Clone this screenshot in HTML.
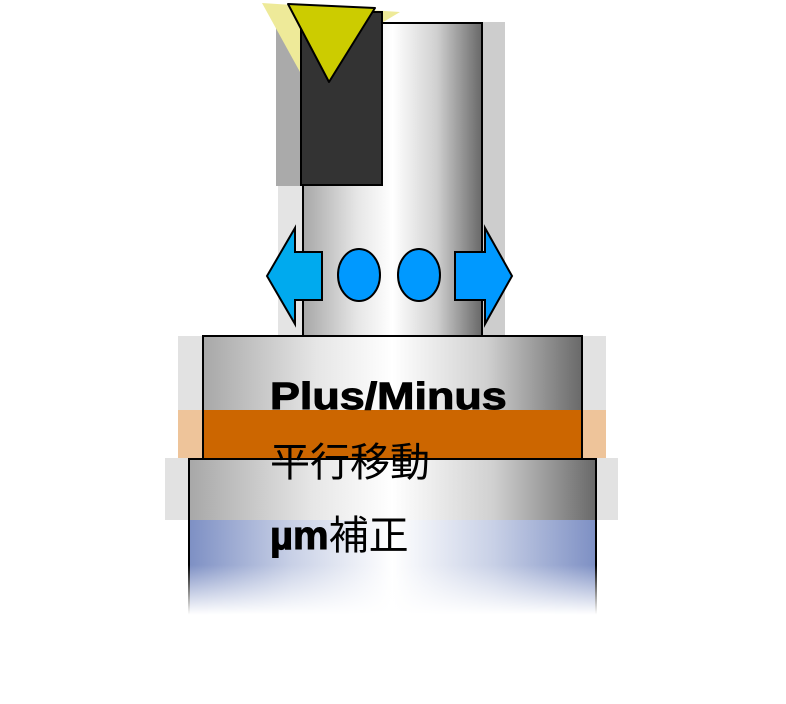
<!DOCTYPE html><html><head><meta charset="utf-8"><style>
body{margin:0;width:786px;height:704px;background:#fff;position:relative;overflow:hidden;font-family:"Liberation Sans","Noto Sans CJK JP",sans-serif}
.a{position:absolute;box-sizing:border-box}
.g{background:linear-gradient(90deg,#a8a8a8 0%,#e6e6e6 30%,#fff 50%,#d0d0d0 75%,#6a6a6a 100%)}
.t{position:absolute;color:#000;white-space:nowrap;line-height:1}
</style></head><body>
<svg class="a" style="left:0;top:0" width="786" height="704">
<rect x="276" y="10" width="26" height="176" fill="#aaa"/>
<rect x="278" y="186" width="24" height="150" fill="#e4e4e4"/>
<rect x="482" y="22" width="23" height="314" fill="#cdcdcd"/>
<polygon points="262,3 400,12 300,72" fill="#eeea99"/>
</svg>
<div class="a g" style="left:302px;top:22px;width:181px;height:315px;border:2px solid #000"></div>
<svg class="a" style="left:0;top:0" width="786" height="704">
<rect x="301" y="12" width="81" height="173" fill="#333" stroke="#000" stroke-width="2"/>
<polygon points="288,4 375,8 329,82" fill="#cccc00" stroke="#000" stroke-width="2" stroke-linejoin="round"/>
</svg>
<div class="a" style="left:178px;top:336px;width:428px;height:74px;background:#e2e2e2"></div>
<div class="a" style="left:178px;top:410px;width:428px;height:48px;background:#eec49a"></div>
<div class="a" style="left:165px;top:458px;width:453px;height:62px;background:#e2e2e2"></div>
<div class="a g" style="left:202px;top:335px;width:381px;height:77px;border:2px solid #000"></div>
<div class="a" style="left:202px;top:410px;width:381px;height:50px;background:#cc6600;border:2px solid #000;border-top:none"></div>
<div class="a g" style="left:188px;top:458px;width:409px;height:64px;border:2px solid #000"></div>
<div class="a" style="left:188px;top:520px;width:409px;height:95px;border-left:2px solid #000;border-right:2px solid #000;background:linear-gradient(90deg,#7e90c4 0%,#c8d0e6 25%,#fff 50%,#c8d0e6 75%,#7e90c4 100%)"></div>
<div class="a" style="left:186px;top:565px;width:414px;height:55px;background:linear-gradient(180deg,rgba(255,255,255,0) 0%,#fff 90%)"></div>
<svg class="a" style="left:0;top:0" width="786" height="704">
<polygon points="267,276 295,228 295,252 322,252 322,300 295,300 295,324" fill="#00aaee" stroke="#000" stroke-width="2"/>
<polygon points="512,276 485,228 485,252 455,252 455,300 485,300 485,324" fill="#0099ff" stroke="#000" stroke-width="2"/>
<ellipse cx="359" cy="275" rx="21" ry="26" fill="#0099ff" stroke="#000" stroke-width="2"/>
<ellipse cx="419" cy="275" rx="21" ry="26" fill="#0099ff" stroke="#000" stroke-width="2"/>
</svg>
<div class="t" style="left:270px;top:378px;font-size:38px;font-weight:900;transform:scaleX(1.18);transform-origin:0 0;-webkit-text-stroke:1px #000">Plus/Minus</div>
<div class="t" style="left:270px;top:443px;font-size:40px">平行移動</div>
<div class="t" style="left:270px;top:516px;font-size:40px"><b style="-webkit-text-stroke:1px #000">µm</b>補正</div>
</body></html>
